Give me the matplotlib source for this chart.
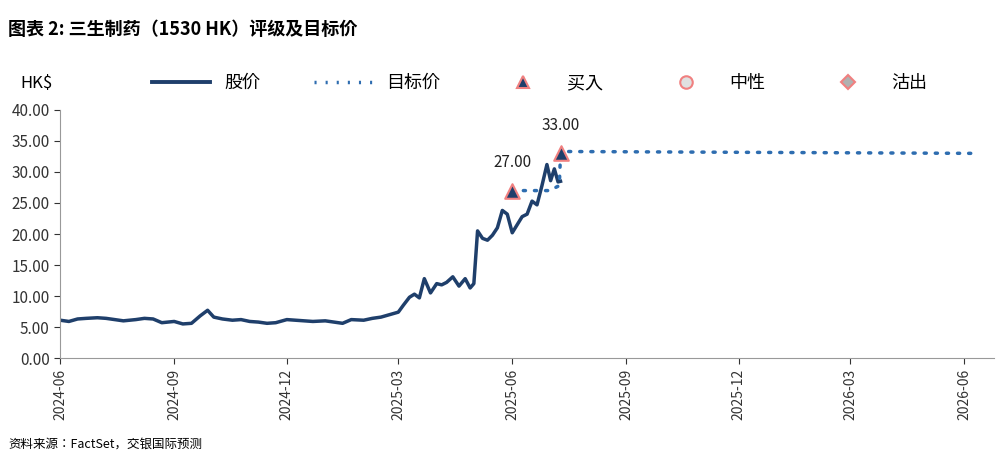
import matplotlib
matplotlib.use("Agg")
import matplotlib.pyplot as plt
import matplotlib.dates as mdates
from matplotlib import font_manager
import pandas as pd
from matplotlib.lines import Line2D

cjk = [f.name for f in font_manager.fontManager.ttflist if "CJK" in f.name]
pref = [n for n in ["Noto Sans CJK SC", "Noto Sans CJK JP", "Noto Sans CJK TC", "Noto Sans CJK KR"] if n in cjk] + cjk
plt.rcParams["font.family"] = "sans-serif"
plt.rcParams["font.sans-serif"] = pref[:1] + ["DejaVu Sans"]

price_dates = ["2024-06-01","2024-06-08","2024-06-15","2024-06-22","2024-07-01","2024-07-08","2024-07-15","2024-07-22",
 "2024-08-01","2024-08-08","2024-08-15","2024-08-22","2024-09-01","2024-09-08","2024-09-15","2024-09-22","2024-09-28",
 "2024-10-03","2024-10-10","2024-10-18","2024-10-25","2024-11-01","2024-11-08","2024-11-15","2024-11-22","2024-12-01",
 "2024-12-08","2024-12-15","2024-12-22","2025-01-01","2025-01-08","2025-01-15","2025-01-22","2025-02-01","2025-02-08",
 "2025-02-15","2025-02-22","2025-03-01","2025-03-05","2025-03-10","2025-03-14","2025-03-18","2025-03-22","2025-03-27",
 "2025-04-01","2025-04-05","2025-04-09","2025-04-14","2025-04-19","2025-04-24","2025-04-28","2025-05-01","2025-05-04",
 "2025-05-08","2025-05-12","2025-05-16","2025-05-20","2025-05-24","2025-05-28","2025-06-01","2025-06-05","2025-06-09",
 "2025-06-13","2025-06-17","2025-06-21","2025-06-25","2025-06-29","2025-07-02","2025-07-05","2025-07-08","2025-07-10"]
price_values = [6.1,5.9,6.3,6.4,6.5,6.4,6.2,6.0,6.2,6.4,6.3,5.7,5.9,5.5,5.6,6.8,7.7,
 6.6,6.3,6.1,6.2,5.9,5.8,5.6,5.7,6.2,6.1,6.0,5.9,6.0,5.8,5.6,6.2,6.1,6.4,
 6.6,7.0,7.4,8.5,9.8,10.3,9.7,12.8,10.5,12.0,11.8,12.2,13.1,11.6,12.8,11.3,12.0,20.5,
 19.3,19.0,19.8,21.0,23.8,23.2,20.2,21.5,22.8,23.2,25.3,24.7,27.8,31.2,28.6,30.5,28.4,28.5]
target_dates = ["2025-06-01","2025-07-01","2025-07-09","2025-07-10","2025-07-15","2026-06-10"]
target_values = [27.0,27.0,27.8,33.0,33.3,33.0]
buy_dates = ["2025-06-01","2025-07-10"]
buy_values = [27.0,33.0]

fig = plt.figure(figsize=(10.04,4.62), dpi=100)
ax = fig.add_axes([0.06, 0.225, 0.93, 0.537])
ax.plot(pd.to_datetime(price_dates), price_values, color="#1f3f6b", lw=2.5)
ax.plot(pd.to_datetime(target_dates), target_values, color="#2e6db0", lw=2.5, ls=(0,(0.6,2.6)), dash_capstyle="round")
bd = pd.to_datetime(buy_dates)
ax.scatter(bd, buy_values, marker="^", s=110, color="#1f3f6b", edgecolors="#f08080", linewidths=1.5, zorder=5)
for d, v in zip(bd, buy_values):
    ax.annotate(f"{v:.2f}", (d, v), xytext=(0, 14), textcoords="offset points", ha="center", va="bottom", fontsize=11, color="#222")

ax.set_ylim(0, 40)
ax.set_yticks(range(0, 41, 5))
ax.set_yticklabels([f"{v:.2f}" for v in range(0, 41, 5)], fontsize=11)
ax.set_xlim(pd.Timestamp("2024-06-01"), pd.Timestamp("2026-06-25"))
ax.xaxis.set_major_locator(mdates.MonthLocator(bymonth=[3,6,9,12]))
ax.xaxis.set_major_formatter(mdates.DateFormatter("%Y-%m"))
plt.setp(ax.get_xticklabels(), rotation=90, fontsize=10)
for s in ["top","right"]:
    ax.spines[s].set_visible(False)
for s in ["left","bottom"]:
    ax.spines[s].set_color("#999")
ax.tick_params(colors="#333", length=4)

fig.text(0.008, 0.925, "图表 2: 三生制药（1530 HK）评级及目标价", fontsize=13, fontweight="bold")
fig.text(0.02, 0.81, "HK$", fontsize=12)
handles = [Line2D([],[],color="#1f3f6b",lw=2.8),
           Line2D([],[],color="#2e6db0",lw=2.5,ls=(0,(0.6,2.6))),
           Line2D([],[],marker="^",ls="",ms=9,color="#1f3f6b",mec="#f08080",mew=1.5),
           Line2D([],[],marker="o",ls="",ms=9,color="#e0e0e0",mec="#f08080",mew=1.5),
           Line2D([],[],marker="D",ls="",ms=7,color="#b0b0b0",mec="#f08080",mew=1.5)]
fig.legend(handles, ["股价","目标价","买入","中性","沽出"], loc="center left", bbox_to_anchor=(0.135, 0.82),
           ncol=5, frameon=False, fontsize=13, handlelength=3.2, columnspacing=3.0)
fig.text(0.008, 0.03, "资料来源：FactSet，交银国际预测", fontsize=9, style="italic")
fig.savefig("out.png", dpi=100)
